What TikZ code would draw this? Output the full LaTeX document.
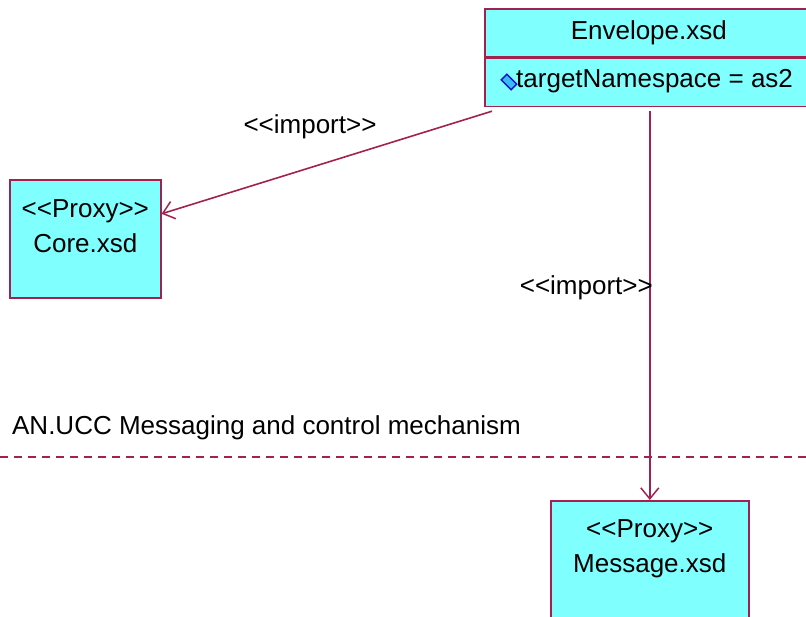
\documentclass[tikz,border=0pt]{standalone}
\usepackage{fontspec}
\setmainfont{Liberation Sans}
\usepackage{tikz}
\usetikzlibrary{arrows.meta,positioning,calc}
\definecolor{umlred}{HTML}{A3214F}
\definecolor{umlcyan}{HTML}{80FFFF}
\definecolor{umlblue}{HTML}{1010C8}
\newcommand{\stereo}[1]{<\kern0pt<#1>\kern0pt>}
\tikzset{
  umlbox/.style={draw=umlred,line width=1.6pt,fill=umlcyan,inner sep=0pt},
  umltext/.style={font=\fontsize{26}{35}\selectfont,align=center,inner sep=0pt},
  umlicon/.style={draw=umlblue,fill=cyan!80,line width=1.4pt,minimum width=8pt,minimum height=14pt,inner sep=0pt,rotate=45},
  umldep/.style={-{Straight Barb[length=11pt,width=18pt,line width=1.5pt]},draw=umlred,line width=1.6pt},
  umlpkg/.style={draw=umlred,line width=1.8pt,dash pattern=on 8pt off 6pt}
}
\begin{document}
\begin{tikzpicture}[x=1pt,y=-1pt]
\useasboundingbox (0,0) rectangle (806,617);
\clip (0,0) rectangle (806,617);
% class boxes
\node[umlbox,minimum width=328pt,minimum height=48pt,anchor=north west] (env) at (484,8) {};
\node[umltext] (envname) at (env.center) {Envelope.xsd};
\node[umlbox,minimum width=328pt,minimum height=48pt,anchor=north west] (attr) at (env.south west) {};
\node[umlicon] (attricon) at (509,82) {};
\node[umltext,anchor=west] (attrtext) at (516,81) {targetNamespace = as2};
\node[umlbox,minimum width=151pt,minimum height=118pt,anchor=north west] (core) at (9,179) {};
\node[umltext,anchor=north] (corelbl) at ($(core.north)+(0,20)$) {\stereo{Proxy}\\Core.xsd};
\node[umlbox,minimum width=198pt,minimum height=160pt,anchor=north west] (msg) at (550,500) {};
\node[umltext,anchor=north] (msglbl) at ($(msg.north)+(0,19)$) {\stereo{Proxy}\\Message.xsd};
% package boundary
\node[umltext,anchor=east] (pkgname) at (521,428) {AN.UCC Messaging and control mechanism};
\draw[umlpkg] (0,457) -- (806,457);
% dependencies
\coordinate (envfoot) at ($(attr.south west)+(8,4)$);
\draw[umldep] (envfoot) -- ($(core.east)+(0,-25)$);
\node[umltext] (imp1) at (310,127) {\stereo{import}};
\draw[umldep] ($(msg.north |- attr.south)+(0,4)$) -- (msg.north);
\node[umltext,anchor=east] (imp2) at (653,288) {\stereo{import}};
\end{tikzpicture}
\end{document}
